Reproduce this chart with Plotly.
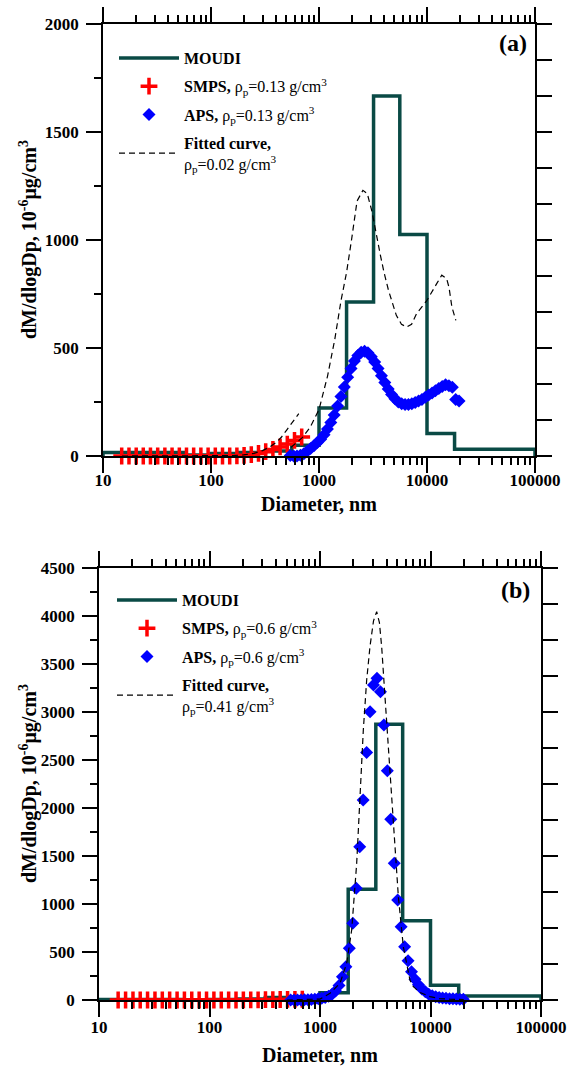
import plotly.graph_objects as go

# ---------------- data ----------------
moudi_edges = [10, 56, 100, 180, 320, 560, 1000, 1800, 3200, 5600, 10000, 18000, 100000]
moudi_a = [16, 5, 11, 16, 23, 50, 222, 713, 1667, 1025, 104, 31]
moudi_b = [5, 3, 5, 10, 25, 30, 76, 1153, 2872, 826, 153, 42]

smps_d = [14.9, 17.4, 20.3, 23.6, 27.5, 32.1, 37.4, 43.6, 50.9, 59.3, 69.1, 80.6, 94.0,
          109.6, 127.8, 149.0, 173.7, 202.5, 236.1, 275.3, 321.0, 374.2, 436.3, 508.7,
          593.1, 691.5]
smps_a = [0, 0, 0, 0, 0, 0, 0, 0, 0, 0, 0, 0, 0, 0, 0, 0, 1, 3, 6, 12, 20, 30, 42, 55, 72, 88]
smps_b = [0, 0, 0, 0, 0, 0, 0, 0, 0, 0, 0, 0, 0, 0, 0, 0, 0, 1, 1, 2, 3, 4, 5, 6, 7, 8]

aps_d = [542, 583, 626, 673, 723, 777, 835, 898, 965, 1037, 1114, 1197, 1286, 1382, 1486,
         1596, 1715, 1843, 1981, 2129, 2288, 2458, 2642, 2839, 3051, 3278, 3523, 3786,
         4068, 4371, 4698, 5048, 5425, 5829, 6264, 6732, 7234, 7774, 8354, 8977, 9647,
         10370, 11140, 11970, 12860, 13820, 14860, 15960, 17150, 18430, 19810]
aps_a = [2, 0, 0, 3, 10, 22, 35, 48, 62, 78, 98, 125, 155, 190, 232, 275, 320, 365, 405,
         440, 465, 480, 485, 478, 460, 435, 405, 372, 340, 310, 285, 265, 250, 242, 238,
         238, 242, 248, 255, 262, 272, 282, 292, 302, 312, 322, 330, 325, 318, 262, 255]
aps_b = [0, 0, 0, 1, 2, 3, 5, 8, 12, 18, 27, 40, 60, 95, 150, 243, 347, 538, 799, 1163,
         1597, 2083, 2577, 3003, 3281, 3351, 3212, 2865, 2389, 1882, 1424, 1042, 764, 555,
         410, 295, 215, 160, 115, 85, 60, 45, 35, 27, 21, 17, 14, 12, 10, 8, 7]

fit_a_d = [15, 20, 30, 50, 80, 120, 160, 200, 250, 300, 350, 400, 450, 500, 550, 600, 650,
           None,
           550, 600, 700, 830, 1000, 1200, 1400, 1600, 1800, 2000, 2250, 2550, 2800, 3100,
           3400, 3700, 4000, 4400, 5200, 5800, 6500, 7200, 8000, 10000, 12300, 13700,
           15200, 16000, 17000, 18500]
fit_a_v = [0, 0, 0, 0, 0, 1, 2, 5, 12, 25, 42, 62, 88, 119, 145, 170, 196,
           None,
           40, 55, 85, 134, 215, 370, 540, 720, 850, 1000, 1180, 1230, 1215, 1130,
           1020, 930, 850, 767, 651, 610, 597, 610, 659, 721, 798, 837,
           821, 780, 690, 628]

fit_b_d = [500, 800, 1000, 1232, 1517, 1743, 1935, 2148, 2302, 2466, 2645, 2833, 3050,
           3258, 3450, 3614, 3873, 4150, 4452, 4775, 5119, 5677, 6516, 7000, 8000, 9886,
           12000, 15000, 20000]
fit_b_v = [0, 3, 10, 70, 174, 382, 729, 1424, 2118, 2812, 3333, 3681, 3950,
           4045, 3930, 3681, 3160, 2639, 2118, 1597, 1076, 555, 208, 139, 80, 35,
           15, 8, 5]

x_tick_vals = [10, 100, 1000, 10000, 100000]
x_tick_text = ["10", "100", "1000", "10000", "100000"]
dens_a = {"smps": "0.13", "aps": "0.13", "fit": "0.02"}
dens_b = {"smps": "0.6", "aps": "0.6", "fit": "0.41"}

# ---------------- style ----------------
W, H = 567, 1067
MOUDI_COLOR = "#0a4a45"
FONT = "Liberation Serif"

def step_xy(edges, vals):
    xs = [edges[0]] + list(edges) + [edges[-1]]
    ys = [0] + list(vals) + [vals[-1], 0]
    return xs, ys

fig = go.Figure()

def add_panel(xa, ya, leg, moudi, smps, aps, fd, fv, dens):
    mx, my = step_xy(moudi_edges, moudi)
    fig.add_trace(go.Scatter(x=mx, y=my, mode="lines", line_shape="hv",
                             line=dict(color=MOUDI_COLOR, width=3.5),
                             name="<b>MOUDI</b>", xaxis=xa, yaxis=ya, legend=leg,
                             legendgroup=leg + "1", cliponaxis=False))
    fig.add_trace(go.Scatter(x=smps_d, y=smps, mode="markers",
                             marker=dict(symbol="cross-thin", size=12, color="#ff0000",
                                         line=dict(color="#ff0000", width=3.5)),
                             name="<b>SMPS,</b> ρ<sub>p</sub>=%s g/cm<sup>3</sup>" % dens["smps"],
                             xaxis=xa, yaxis=ya, legend=leg, legendgroup=leg + "2",
                             cliponaxis=False))
    fig.add_trace(go.Scatter(x=aps_d, y=aps, mode="markers",
                             marker=dict(symbol="diamond", size=10, color="#0000ff",
                                         line=dict(width=0)),
                             name="<b>APS,</b> ρ<sub>p</sub>=%s g/cm<sup>3</sup>" % dens["aps"],
                             xaxis=xa, yaxis=ya, legend=leg, legendgroup=leg + "3",
                             cliponaxis=False))
    fig.add_trace(go.Scatter(x=fd, y=fv, mode="lines",
                             line=dict(color="black", width=1.2, dash="6px,4px"),
                             name="<b>Fitted curve,</b><br>ρ<sub>p</sub>=%s g/cm<sup>3</sup>" % dens["fit"],
                             xaxis=xa, yaxis=ya, legend=leg, legendgroup=leg + "4",
                             connectgaps=False, cliponaxis=False))

add_panel("x", "y", "legend", moudi_a, smps_a, aps_a, fit_a_d, fit_a_v, dens_a)
add_panel("x2", "y2", "legend2", moudi_b, smps_b, aps_b, fit_b_d, fit_b_v, dens_b)
# empty traces to materialise the right-hand tick axes
fig.add_trace(go.Scatter(x=[], y=[], xaxis="x", yaxis="y3", showlegend=False))
fig.add_trace(go.Scatter(x=[], y=[], xaxis="x2", yaxis="y4", showlegend=False))

minor_vals = [m * 10 ** e for e in range(1, 5) for m in range(2, 10)]
tickfont = dict(family=FONT, size=17, color="black", weight="bold")

def xaxis_cfg(dom, anchor, standoff):
    return dict(domain=dom, anchor=anchor, type="log", range=[1, 5], automargin=False,
                tickmode="array", tickvals=x_tick_vals, ticktext=x_tick_text,
                ticks="outside", ticklen=15, tickwidth=1.5, tickcolor="black",
                showline=True, linecolor="black", linewidth=1.5, mirror="ticks",
                showgrid=False, zeroline=False, tickfont=tickfont,
                ticklabelstandoff=standoff,
                minor=dict(tickmode="array", tickvals=minor_vals, ticks="outside",
                           ticklen=7, tickwidth=1.5, tickcolor="black", showgrid=False))

def yaxis_cfg(dom, anchor, ymax):
    return dict(domain=dom, anchor=anchor, range=[0, ymax], tickmode="linear", tick0=0,
                dtick=500, ticks="outside", ticklen=15, tickwidth=1.5, tickcolor="black",
                showline=True, linecolor="black", linewidth=1.5, showgrid=False,
                zeroline=False, tickfont=tickfont, ticklabelstandoff=4, automargin=False,
                minor=dict(dtick=250, tick0=0, ticks="outside", ticklen=7, tickwidth=1.5,
                           tickcolor="black", showgrid=False))

def right_cfg(over, anchor):
    return dict(overlaying=over, anchor=anchor, side="right", range=[0, 12],
                tickmode="linear", tick0=0, dtick=1, ticks="outside", ticklen=15,
                tickwidth=1.5, tickcolor="black", showline=True, linecolor="black",
                linewidth=1.5, showticklabels=False, showgrid=False, zeroline=False,
                automargin=False)

ya_dom = [1 - 456 / H, 1 - 24 / H]
yb_dom = [1 - 1000 / H, 1 - 568 / H]

legend_common = dict(xanchor="left", yanchor="top", bgcolor="rgba(0,0,0,0)",
                     font=dict(family=FONT, size=16, color="black"),
                     itemwidth=60, tracegroupgap=4.5, traceorder="grouped")

fig.update_layout(
    template="none",
    width=W, height=H, margin=dict(l=0, r=0, t=0, b=0, autoexpand=False),
    paper_bgcolor="white", plot_bgcolor="white",
    xaxis=xaxis_cfg([103 / W, 535 / W], "y", -7),
    yaxis=yaxis_cfg(ya_dom, "x", 2000),
    yaxis3=right_cfg("y", "x"),
    xaxis2=xaxis_cfg([99 / W, 541 / W], "y2", -4),
    yaxis2=yaxis_cfg(yb_dom, "x2", 4500),
    yaxis4=right_cfg("y2", "x2"),
    legend=dict(x=114 / W, y=1 - 41 / H, **legend_common),
    legend2=dict(x=112 / W, y=1 - 583 / H, **legend_common),
    showlegend=True,
)

title_font = dict(family=FONT, size=20, color="black", weight="bold")
ann = [
    dict(text="Diameter, nm", x=(103 + 535) / 2 / W, y=1 - 504 / H),
    dict(text="Diameter, nm", x=(99 + 541) / 2 / W, y=1 - 1055 / H),
]
for a in ann:
    fig.add_annotation(xref="paper", yref="paper", showarrow=False, font=title_font,
                       xanchor="center", yanchor="middle", **a)
ytitle = "dM/dlogDp, 10<sup>-6</sup>μg/cm<sup>3</sup>"
for yc in [240, 784]:
    fig.add_annotation(xref="paper", yref="paper", x=28 / W, y=1 - yc / H, text=ytitle,
                       textangle=-90, showarrow=False, font=title_font,
                       xanchor="center", yanchor="middle")
for lbl, xc, yc in [("(a)", 513, 43), ("(b)", 515, 590)]:
    fig.add_annotation(xref="paper", yref="paper", x=xc / W, y=1 - yc / H, text="<b>%s</b>" % lbl,
                       showarrow=False, font=dict(family=FONT, size=24, color="black"),
                       xanchor="center", yanchor="middle")

fig.write_html("out.html", config={"displayModeBar": False},
               post_script="document.body.style.margin='0px';")
